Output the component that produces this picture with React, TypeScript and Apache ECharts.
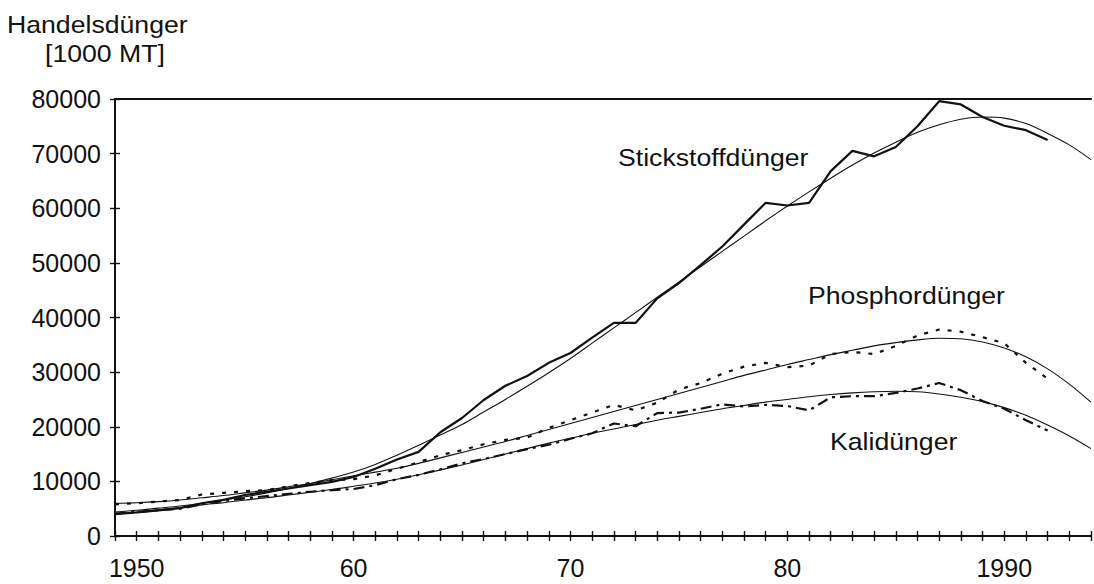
import React, { useEffect, useRef } from "react";
import * as echarts from "echarts";

const YEARS = [
  1949, 1950, 1951, 1952, 1953, 1954, 1955, 1956, 1957, 1958, 1959, 1960, 1961, 1962, 1963, 1964,
  1965, 1966, 1967, 1968, 1969, 1970, 1971, 1972, 1973, 1974, 1975, 1976, 1977, 1978, 1979, 1980,
  1981, 1982, 1983, 1984, 1985, 1986, 1987, 1988, 1989, 1990, 1991, 1992, 1993, 1994,
];

// Stickstoffdünger (actual, 1949-1992) and trend (1949-1994)
const N_ACTUAL = [
  4000, 4300, 4700, 5100, 6000, 6600, 7500, 8100, 8700, 9300, 9900, 10800, 12300, 14000, 15400, 19000,
  21600, 24900, 27500, 29300, 31700, 33500, 36300, 39000, 39000, 43500, 46300, 49600, 53000, 57000, 61000, 60500,
  61000, 66800, 70500, 69500, 71200, 75000, 79600, 79000, 76700, 75100, 74300, 72500,
];
const N_TREND = [
  4400, 4700, 5100, 5500, 6000, 6600, 7200, 7900, 8700, 9600, 10600, 11700, 13100, 14800, 16600, 18500,
  20400, 22700, 25000, 27400, 29900, 32500, 35300, 38100, 40900, 43700, 46500, 49300, 52100, 54900, 57700, 60400,
  63000, 65500, 67900, 70100, 72100, 73900, 75300, 76300, 76700, 76500, 75500, 73700, 71600, 68900,
];

// Phosphordünger
const P_ACTUAL = [
  5800, 6000, 6300, 6600, 7600, 7900, 8200, 8400, 9100, 9700, 10200, 10400, 11100, 12300, 13500, 14800,
  15700, 16800, 17600, 18000, 19800, 21200, 22600, 24000, 23000, 24400, 26800, 28000, 29700, 31000, 31700, 30900,
  31200, 33300, 33700, 33300, 34800, 36700, 37800, 37400, 36400, 35300, 31700, 28800,
];
const P_TREND = [
  6000, 6100, 6300, 6600, 7000, 7400, 7900, 8400, 9000, 9600, 10300, 11000, 11700, 12400, 13300, 14300,
  15300, 16300, 17300, 18400, 19500, 20600, 21700, 22800, 23900, 25000, 26100, 27200, 28300, 29400, 30400, 31400,
  32300, 33200, 34000, 34800, 35400, 35900, 36200, 36100, 35500, 34400, 32800, 30600, 27800, 24500,
];

// Kalidünger
const K_ACTUAL = [
  4100, 4400, 4700, 5000, 5800, 6400, 6900, 7300, 7700, 8100, 8400, 8600, 9300, 10400, 11200, 12200,
  13300, 14100, 15000, 15900, 16700, 17800, 18800, 20600, 20100, 22500, 22600, 23300, 24100, 23700, 24000, 23800,
  23000, 25400, 25600, 25600, 26200, 27000, 28000, 26700, 24700, 23300, 21200, 19300,
];
const K_TREND = [
  4000, 4400, 4800, 5200, 5700, 6100, 6600, 7000, 7500, 8000, 8500, 9100, 9700, 10400, 11200, 12100,
  13000, 14000, 15000, 16000, 17000, 17900, 18800, 19600, 20400, 21200, 21900, 22600, 23300, 23900, 24500, 25000,
  25500, 25900, 26200, 26400, 26500, 26400, 26000, 25400, 24600, 23500, 22100, 20300, 18300, 16000,
];

const X_LABELS: Record<number, string> = { 1950: "1950", 1960: "60", 1970: "70", 1980: "80", 1990: "1990" };
const Y_LABELS = ["0", "10000", "20000", "30000", "40000", "50000", "60000", "70000", "80000"];

const TITLE = ["Handelsdünger", "[1000 MT]"];
const SERIES_NAMES = ["Stickstoffdünger", "Phosphordünger", "Kalidünger"];

function pairs(vals: number[]) {
  return vals.map((v, i) => [YEARS[i], v]);
}

export default function App() {
  const ref = useRef<HTMLDivElement>(null);
  useEffect(() => {
    const chart = echarts.init(ref.current!, null, { renderer: "svg" });
    const font = "'Liberation Sans', Arial, Helvetica, sans-serif";
    const ink = "#111";
    const xBase = { type: "value", min: 1949, max: 1994, interval: 1, gridIndex: 0 };
    const yBase = { type: "value", min: 0, max: 80000, interval: 10000, gridIndex: 0 };
    const tickStyle = { color: ink, width: 1.4 };
    const txt = (text: string, x: number, y: number) => ({
      type: "text",
      x,
      y,
      scaleX: 1.11,
      style: { text, fontSize: 24, fontFamily: font, fill: ink, align: "left", verticalAlign: "middle" },
    });
    const trend = (name: string, vals: number[]) => ({
      name,
      type: "line",
      data: pairs(vals),
      symbol: "none",
      smooth: 0.3,
      lineStyle: { color: ink, width: 1.1 },
      z: 2,
    });
    chart.setOption({
      animation: false,
      backgroundColor: "#fff",
      grid: { left: 115, right: 0, top: 99, bottom: 48, containLabel: false },
      xAxis: [
        {
          ...xBase,
          position: "bottom",
          axisLine: { show: true, onZero: false, lineStyle: { color: ink, width: 2 } },
          axisTick: { show: true, inside: false, length: 5, lineStyle: tickStyle },
          axisLabel: {
            show: true,
            margin: 19,
            fontSize: 25,
            fontFamily: font,
            color: ink,
            formatter: (v: number) => X_LABELS[Math.round(v)] ?? "",
          },
          splitLine: { show: false },
        },
        {
          ...xBase,
          position: "bottom",
          axisLine: { show: false, onZero: false },
          axisTick: { show: true, inside: true, length: 5, lineStyle: tickStyle },
          axisLabel: { show: false },
          splitLine: { show: false },
        },
        {
          ...xBase,
          position: "top",
          axisLine: { show: true, onZero: false, lineStyle: { color: ink, width: 2 } },
          axisTick: { show: false },
          axisLabel: { show: false },
          splitLine: { show: false },
        },
      ],
      yAxis: [
        {
          ...yBase,
          position: "left",
          axisLine: { show: true, onZero: false, lineStyle: { color: ink, width: 2 } },
          axisTick: { show: true, inside: false, length: 5, lineStyle: tickStyle },
          axisLabel: {
            show: true,
            margin: 14,
            fontSize: 25,
            fontFamily: font,
            color: ink,
            formatter: (v: number) => Y_LABELS[Math.round(v / 10000)] ?? "",
          },
          splitLine: { show: false },
        },
        {
          ...yBase,
          position: "left",
          axisLine: { show: false, onZero: false },
          axisTick: { show: true, inside: true, length: 5, lineStyle: tickStyle },
          axisLabel: { show: false },
          splitLine: { show: false },
        },
      ],
      graphic: [
        txt(TITLE[0], 7, 24),
        txt(TITLE[1], 45, 53),
        txt(SERIES_NAMES[0], 618, 157),
        txt(SERIES_NAMES[1], 808, 295),
        txt(SERIES_NAMES[2], 830, 441),
      ],
      series: [
        trend("N Trend", N_TREND),
        trend("P Trend", P_TREND),
        trend("K Trend", K_TREND),
        {
          name: SERIES_NAMES[0],
          type: "line",
          data: pairs(N_ACTUAL),
          symbol: "none",
          lineStyle: { color: ink, width: 2.2 },
          z: 3,
        },
        {
          name: SERIES_NAMES[1],
          type: "line",
          data: pairs(P_ACTUAL),
          symbol: "none",
          lineStyle: { color: ink, width: 2.2, type: [4, 8], cap: "butt" },
          z: 3,
        },
        {
          name: SERIES_NAMES[2],
          type: "line",
          data: pairs(K_ACTUAL),
          symbol: "none",
          lineStyle: { color: ink, width: 2.2, type: [11, 5, 3, 5], cap: "butt" },
          z: 3,
        },
      ],
    });
    return () => chart.dispose();
  }, []);
  return <div ref={ref} style={{ position: "fixed", left: 0, top: 0, width: 1094, height: 584 }} />;
}
